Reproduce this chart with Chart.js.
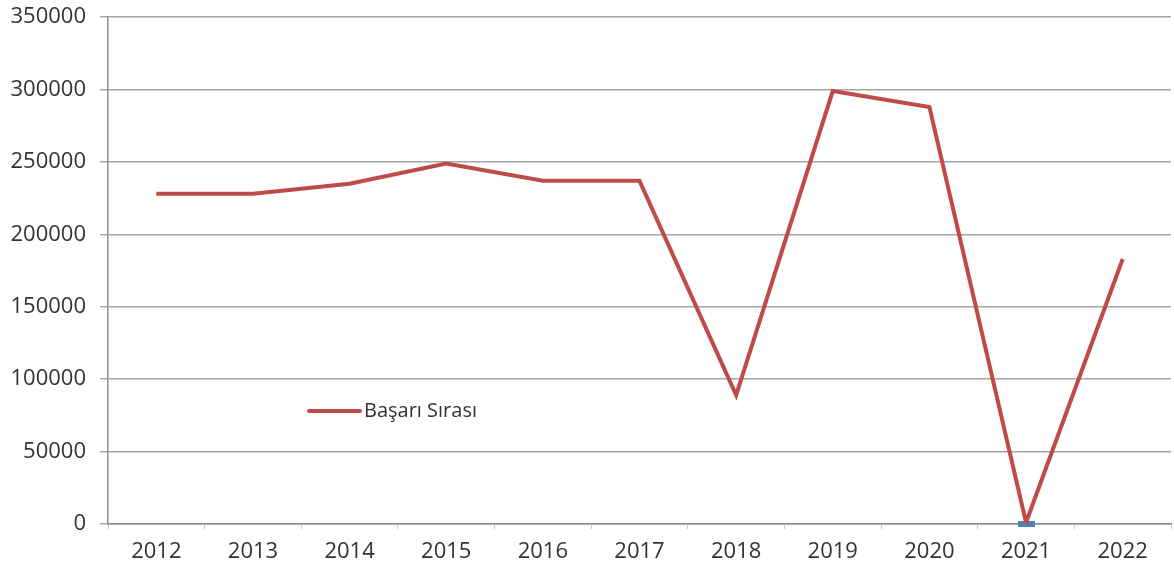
<!DOCTYPE html>
<html>
<head>
<meta charset="utf-8">
<script src="https://cdn.jsdelivr.net/npm/chart.js@4/dist/chart.umd.min.js"></script>
<style>
  html, body { margin: 0; padding: 0; background: #fff; overflow: hidden; }
  #frame { width: 1174px; height: 569px; position: relative; overflow: hidden; }
  #wrap { width: 1180px; height: 579px; position: absolute; left: 0; top: -10px; }
</style>
</head>
<body>
<div id="frame"><div id="wrap"><canvas id="chart"></canvas></div></div>
<script>
var years = ['2012', '2013', '2014', '2015', '2016', '2017', '2018', '2019', '2020', '2021', '2022'];
var basariSirasi = [228000, 228000, 235000, 249000, 237000, 237000, 89000, 299000, 288000, 1000, 183000];
var markerSeries = [null, null, null, null, null, null, null, null, null, 0, null];
var seriesName = 'Başarı Sırası';

var FONT = '"Open Sans", sans-serif';

// flat blue marker like the one sitting on the axis at 2021
var flatMarker = document.createElement('canvas');
flatMarker.width = 17;
flatMarker.height = 6;
(function() {
  var c = flatMarker.getContext('2d');
  c.fillStyle = '#4f81bd';
  c.fillRect(0, 0, 17, 6);
})();

// legend sits inside the plot, left of centre
var insideLegend = {
  id: 'insideLegend',
  afterDraw: function(chart) {
    var ctx = chart.ctx;
    var y = 421;
    ctx.save();
    ctx.strokeStyle = '#be4b48';
    ctx.lineWidth = 4;
    ctx.lineCap = 'round';
    ctx.beginPath();
    ctx.moveTo(309, y);
    ctx.lineTo(360, y);
    ctx.stroke();
    ctx.fillStyle = '#333';
    ctx.font = '20px ' + FONT;
    ctx.textBaseline = 'middle';
    ctx.fillText(seriesName, 364, y);
    ctx.restore();
  }
};

new Chart(document.getElementById('chart'), {
  type: 'line',
  data: {
    labels: years,
    datasets: [
      {
        label: seriesName,
        data: basariSirasi,
        borderColor: '#be4b48',
        borderWidth: 4,
        pointRadius: 0,
        tension: 0,
        order: 1
      },
      {
        label: 'marker',
        data: markerSeries,
        showLine: false,
        pointStyle: flatMarker,
        pointRadius: 8,
        clip: false,
        order: 2
      }
    ]
  },
  options: {
    responsive: true,
    maintainAspectRatio: false,
    animation: false,
    layout: { padding: { top: 4, right: 2, left: 0, bottom: 0 } },
    plugins: {
      legend: { display: false },
      tooltip: { enabled: false }
    },
    scales: {
      x: {
        offset: true,
        grid: {
          offset: true,
          drawOnChartArea: false,
          color: '#c8c8c8',
          tickLength: 5
        },
        border: { color: '#8c8c8c', width: 1.5 },
        ticks: {
          color: '#333',
          font: { family: FONT, size: 22 },
          padding: 10
        },
        afterFit: function(scale) { scale.height = 45; }
      },
      y: {
        min: 0,
        max: 350000,
        grid: {
          color: '#a6a6a6',
          lineWidth: 1.5,
          tickLength: 8
        },
        border: { color: '#8c8c8c', width: 1.5 },
        ticks: {
          stepSize: 50000,
          color: '#333',
          font: { family: FONT, size: 22 },
          padding: 14,
          callback: function(v) { return String(v); }
        },
        afterFit: function(scale) { scale.width = 108; }
      }
    }
  },
  plugins: [insideLegend]
});
</script>
</body>
</html>
